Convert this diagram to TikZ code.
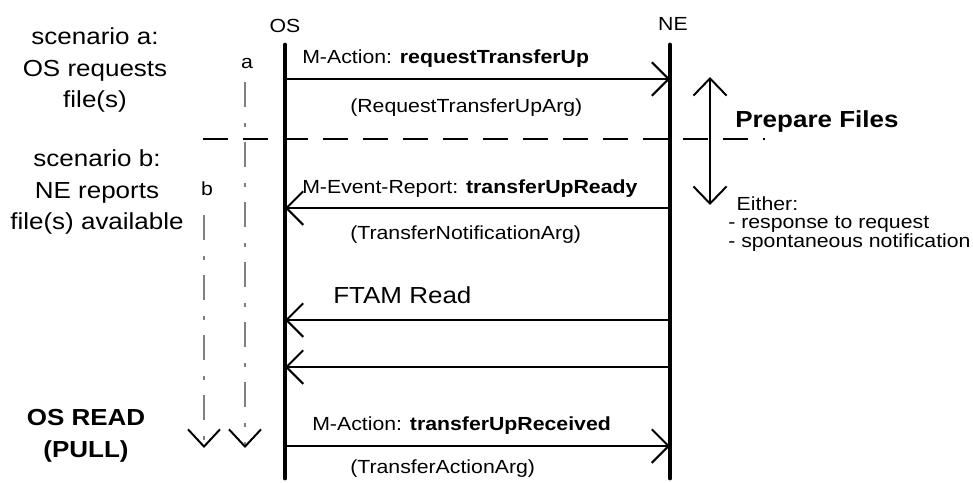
\documentclass[tikz,border=0pt]{standalone}
\usepackage{fontspec}
\setmainfont[FakeStretch=1.12]{Liberation Sans}
\usetikzlibrary{arrows.meta, positioning}

\begin{document}
\begin{tikzpicture}[
        x=0.025cm, y=-0.025cm,
        lifeline/.style={line width=3.5pt, line cap=round},
        msg/.style={line width=1.4pt, -{Straight Barb[length=4.2mm, width=8.4mm]}},
        lbl/.style={inner sep=0pt, anchor=base west, font=\fontsize{13.5}{16}\selectfont},
        big/.style={inner sep=0pt, align=center, font=\fontsize{16.5}{22.4}\selectfont},
        scenline/.style={black!50, line width=1pt, dash pattern=on 0.625cm off 0.4cm on 0.1cm off 0.375cm, -{Straight Barb[length=4.3mm, width=8mm, color=black, line width=1.4pt]}},
        divider/.style={line width=0.8pt, dash pattern=on 0.625cm off 0.375cm},
        prepspan/.style={line width=1.4pt, {Straight Barb[length=4.3mm, width=8.3mm]}-{Straight Barb[length=4.3mm, width=8.3mm]}}
    ]
        \useasboundingbox (0,0) rectangle (973,482);

        \node[lbl, anchor=base] (os) at (285,32) {OS};
        \node[lbl, anchor=base] (ne) at (673,30) {NE};
        \coordinate (os top) at (285,45);
        \coordinate (os bot) at (285,478);
        \coordinate (ne top) at (670,45);
        \coordinate (ne bot) at (670,478);
        \draw[lifeline] (os top) -- (os bot);
        \draw[lifeline] (ne top) -- (ne bot);

        \foreach \n/\y in {1/79, 2/208, 3/320, 4/367, 5/446} {
            \coordinate (os\n) at (285,\y);
            \coordinate (ne\n) at (670,\y);
        }
        \draw[msg] (os1) -- (ne1);
        \draw[msg] (ne2) -- (os2);
        \draw[msg] (ne3) -- (os3);
        \draw[msg] (ne4) -- (os4);
        \draw[msg] (os5) -- (ne5);

        \node[lbl] (req) at (302,63) {M-Action: \textbf{requestTransferUp}};
        \node[lbl] (reqarg) at (350,112) {(RequestTransferUpArg)};
        \node[lbl] (ready) at (302,193) {M-Event-Report: \textbf{transferUpReady}};
        \node[lbl] (readyarg) at (350,239) {(TransferNotificationArg)};
        \node[lbl, font=\fontsize{16.5}{20}\selectfont] (ftam) at (333,303) {FTAM Read};
        \node[lbl] (recv) at (312,430) {M-Action: \textbf{transferUpReceived}};
        \node[lbl] (recvarg) at (350,473) {(TransferActionArg)};

        \node[big] (scena) at (95,70) {scenario a:\\OS requests\\file(s)};
        \node[big] (scenb) at (97,192) {scenario b:\\NE reports\\file(s) available};
        \node[big, font=\bfseries\fontsize{16.5}{22.4}\selectfont] (osread) at (86,436) {OS READ\\(PULL)};

        \node[lbl, anchor=base] (la) at (247,68) {a};
        \node[lbl, anchor=base] (lb) at (207,195) {b};
        \coordinate (a start) at (245,82);
        \coordinate (a end) at (245,448);
        \coordinate (b start) at (204,215);
        \coordinate (b end) at (204,448);
        \draw[scenline] (a start) -- (a end);
        \draw[scenline] (b start) -- (b end);

        \coordinate (div west) at (203,139);
        \coordinate (div east) at (765,139);
        \draw[divider] (div west) -- (div east);

        \coordinate (prep top) at (710,77);
        \coordinate (prep bot) at (710,205);
        \draw[prepspan] (prep top) -- (prep bot);
        \node[lbl, font=\bfseries\fontsize{16.5}{20}\selectfont] (prep) at (735,127) {Prepare Files};
        \node[lbl, anchor=north west, align=left, font=\fontsize{13.5}{13.2}\selectfont] (either) at (728,196) {\hspace*{6pt}Either:\\- response to request\\- spontaneous notification};
    \end{tikzpicture}
\end{document}
